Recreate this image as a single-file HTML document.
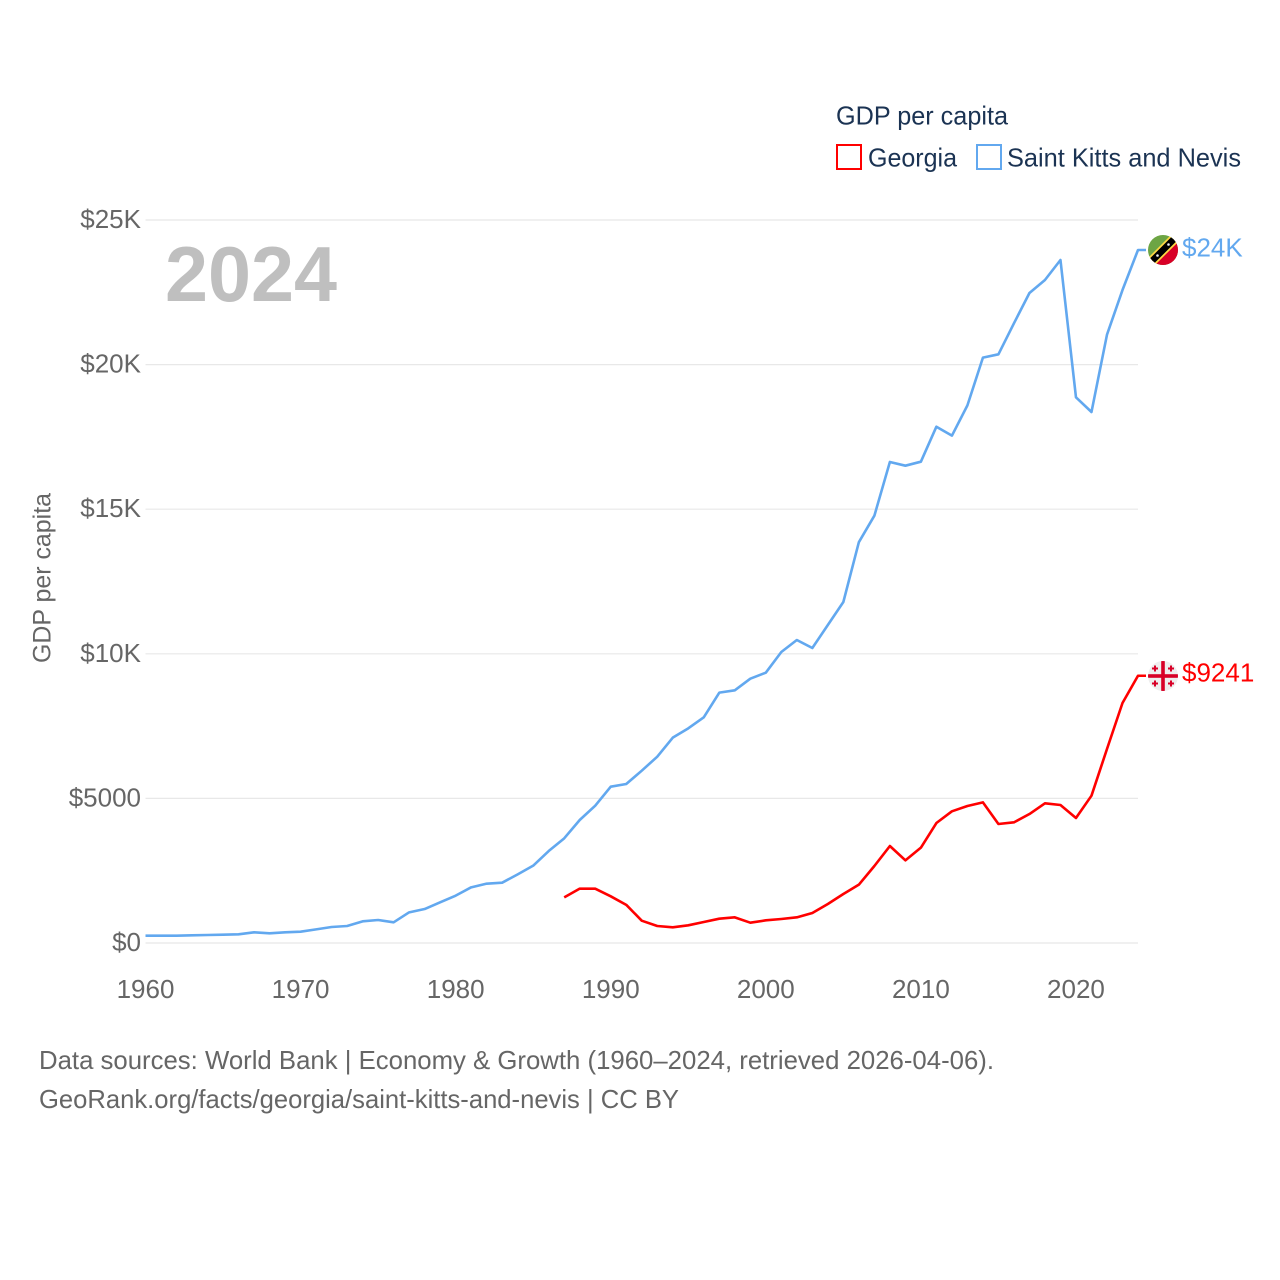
<!DOCTYPE html>
<html lang="en">
<head>
<meta charset="utf-8">
<title>GDP per capita: Georgia and Saint Kitts and Nevis</title>
<style>
html,body{margin:0;padding:0;background:#fff;}
svg{display:block;}
text{font-family:"Liberation Sans",sans-serif;}
</style>
</head>
<body>
<svg id="chart" xmlns="http://www.w3.org/2000/svg" width="1280" height="1280" viewBox="0 0 1280 1280">
  <rect x="0" y="0" width="1280" height="1280" fill="#ffffff"/>
  <g id="grid"></g>
  <g id="yticks"></g>
  <g id="xticks"></g>
  <text transform="translate(50.5,663) rotate(-90)" font-size="25" fill="#666666" textLength="170" lengthAdjust="spacingAndGlyphs">GDP per capita</text>
  <text x="165" y="301" font-size="78" font-weight="700" fill="#bfbfbf" textLength="172" lengthAdjust="spacingAndGlyphs">2024</text>
  <g id="series"></g>

  <g>
    <text x="836" y="124.5" font-size="26" fill="#1b3353" textLength="172" lengthAdjust="spacingAndGlyphs">GDP per capita</text>
    <g>
      <rect x="837" y="145" width="24" height="24" fill="#ffffff" stroke="#ff0000" stroke-width="2"/>
      <text x="868" y="166.5" font-size="26" fill="#1b3353" textLength="89" lengthAdjust="spacingAndGlyphs">Georgia</text>
    </g>
    <g>
      <rect x="977" y="145" width="24" height="24" fill="#ffffff" stroke="#62a8ef" stroke-width="2"/>
      <text x="1007" y="166.5" font-size="26" fill="#1b3353" textLength="234" lengthAdjust="spacingAndGlyphs">Saint Kitts and Nevis</text>
    </g>
  </g>

  <defs>
    <clipPath id="kn-clip"><circle cx="1163" cy="250" r="15"/></clipPath>
    <clipPath id="ge-clip"><circle cx="1163" cy="676" r="15"/></clipPath>
  </defs>
  <g clip-path="url(#kn-clip)">
    <rect x="1148" y="235" width="30" height="30" fill="#6da544"/>
    <polygon points="1178,235 1178,265 1148,265" fill="#d80027"/>
    <line x1="1146" y1="267" x2="1180" y2="233" stroke="#ffda44" stroke-width="10"/>
    <line x1="1146" y1="267" x2="1180" y2="233" stroke="#000000" stroke-width="6.5"/>
    <circle cx="1157.5" cy="255.5" r="1.3" fill="#f0f0f0"/>
    <circle cx="1168.5" cy="244.5" r="1.3" fill="#f0f0f0"/>
  </g>
  <g clip-path="url(#ge-clip)">
    <rect x="1148" y="661" width="30" height="30" fill="#eeeeee"/>
    <rect x="1161.2" y="661" width="3.6" height="30" fill="#d80027"/>
    <rect x="1148" y="674.2" width="30" height="3.6" fill="#d80027"/>
    <path d="M1155 665.5v6M1152 668.5h6M1171 665.5v6M1168 668.5h6M1155 680.5v6M1152 683.5h6M1171 680.5v6M1168 683.5h6" stroke="#d80027" stroke-width="2" fill="none"/>
  </g>
  <text x="1182" y="256.5" font-size="26" fill="#62a8ef">$24K</text>
  <text x="1182" y="681.5" font-size="26" fill="#ff0000">$9241</text>

  <text x="39" y="1069" font-size="26" fill="#666666" textLength="955" lengthAdjust="spacingAndGlyphs">Data sources: World Bank | Economy &amp; Growth (1960–2024, retrieved 2026-04-06).</text>
  <text x="39" y="1108" font-size="26" fill="#666666" textLength="640" lengthAdjust="spacingAndGlyphs">GeoRank.org/facts/georgia/saint-kitts-and-nevis | CC BY</text>
</svg>
<script>
const startYear = 1960;
const endYear = 2024;
const xTickYears = [1960, 1970, 1980, 1990, 2000, 2010, 2020];
const xTickLabels = ['1960', '1970', '1980', '1990', '2000', '2010', '2020'];
const yTickValues = [0, 5000, 10000, 15000, 20000, 25000];
const yTickLabels = ['$0', '$5000', '$10K', '$15K', '$20K', '$25K'];

// Saint Kitts and Nevis, 1960 to 2024
const kittsStartYear = 1960;
const kittsValues = [
  254, 254, 254, 265, 277, 288, 300, 369, 334, 369,
  392, 472, 553, 588, 749, 795, 715, 1060, 1175, 1406,
  1637, 1925, 2052, 2086, 2374, 2674, 3181, 3619, 4253, 4749,
  5406, 5498, 5958, 6443, 7100, 7423, 7803, 8657, 8737, 9140,
  9347, 10062, 10477, 10200, 10996, 11791, 13860, 14775, 16632, 16505,
  16643, 17853, 17543, 18590, 20240, 20356, 21428, 22476, 22925, 23617,
  18869, 18361, 21034, 22579, 23963
];

// Georgia, 1987 to 2024
const georgiaStartYear = 1987;
const georgiaValues = [
  1579, 1879, 1879, 1614, 1320, 772, 588, 542, 611, 726,
  841, 887, 703, 784, 830, 887, 1037, 1349, 1694, 2017,
  2662, 3354, 2858, 3296, 4149, 4553, 4737, 4864, 4115, 4172,
  4460, 4829, 4772, 4322, 5094, 6708, 8299, 9241
];

const plotLeft = 145.5;
const plotRight = 1138;
const plotTop = 220;
const plotBottom = 943;
const yMax = 25000;
const connectorEnd = 1146;
const svgNS = 'http://www.w3.org/2000/svg';

function xScale(year) {
  return plotLeft + (year - startYear) * (plotRight - plotLeft) / (endYear - startYear);
}
function yScale(value) {
  return plotBottom - value * (plotBottom - plotTop) / yMax;
}

const gridGroup = document.getElementById('grid');
const yTickGroup = document.getElementById('yticks');
const xTickGroup = document.getElementById('xticks');
const seriesGroup = document.getElementById('series');

yTickValues.forEach(function (value, i) {
  const line = document.createElementNS(svgNS, 'line');
  
  
  line.setAttribute('x1', plotLeft);
  line.setAttribute('x2', plotRight);
  line.setAttribute('y1', yScale(value));
  line.setAttribute('y2', yScale(value));
  line.setAttribute('stroke', '#e8e8e8');
  line.setAttribute('stroke-width', '1.2');
  gridGroup.appendChild(line);

  const label = document.createElementNS(svgNS, 'text');
  
  
  label.setAttribute('x', plotLeft - 4.5);
  label.setAttribute('y', yScale(value) + 8);
  label.setAttribute('text-anchor', 'end');
  label.setAttribute('font-size', '26');
  label.setAttribute('fill', '#666666');
  label.textContent = yTickLabels[i];
  yTickGroup.appendChild(label);
});

xTickYears.forEach(function (year, i) {
  const label = document.createElementNS(svgNS, 'text');
  
  
  label.setAttribute('x', xScale(year));
  label.setAttribute('y', 998);
  label.setAttribute('text-anchor', 'middle');
  label.setAttribute('font-size', '26');
  label.setAttribute('fill', '#666666');
  label.textContent = xTickLabels[i];
  xTickGroup.appendChild(label);
});

function seriesPoints(firstYear, values) {
  return values.map(function (value, i) {
    return xScale(firstYear + i).toFixed(2) + ',' + yScale(value).toFixed(2);
  });
}

const kittsLine = document.createElementNS(svgNS, 'polyline');


kittsLine.setAttribute('points', seriesPoints(kittsStartYear, kittsValues).join(' ') + ' ' + connectorEnd + ',' + yScale(kittsValues[kittsValues.length - 1]).toFixed(2));
kittsLine.setAttribute('fill', 'none');
kittsLine.setAttribute('stroke', '#62a8ef');
kittsLine.setAttribute('stroke-width', '2.6');
kittsLine.setAttribute('stroke-linejoin', 'round');
seriesGroup.appendChild(kittsLine);

const georgiaLine = document.createElementNS(svgNS, 'polyline');


georgiaLine.setAttribute('points', seriesPoints(georgiaStartYear, georgiaValues).join(' ') + ' ' + connectorEnd + ',' + yScale(georgiaValues[georgiaValues.length - 1]).toFixed(2));
georgiaLine.setAttribute('fill', 'none');
georgiaLine.setAttribute('stroke', '#ff0000');
georgiaLine.setAttribute('stroke-width', '2.6');
georgiaLine.setAttribute('stroke-linejoin', 'round');
seriesGroup.appendChild(georgiaLine);
</script>
</body>
</html>
